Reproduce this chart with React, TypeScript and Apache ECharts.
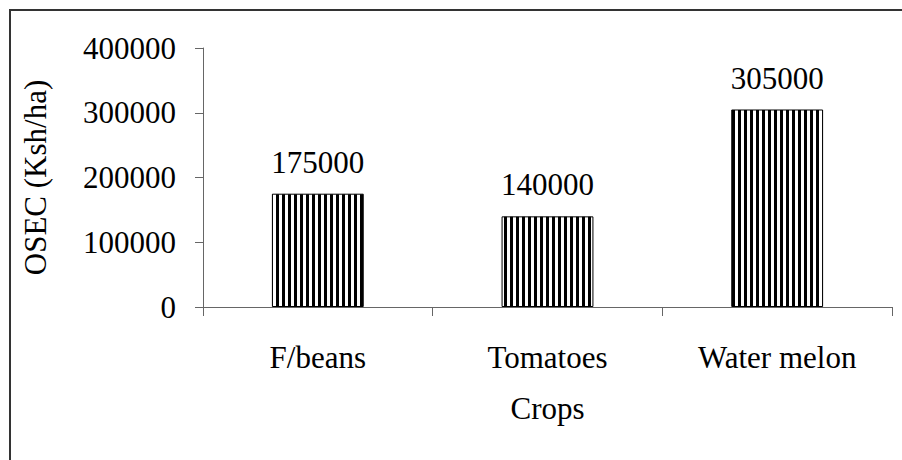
import React, { useEffect, useRef } from "react";
import * as echarts from "echarts";

const categories = ["F/beans", "Tomatoes", "Water melon"];
const values = [175000, 140000, 305000];
const yTicks = [0, 100000, 200000, 300000, 400000];
const xAxisTitle = "Crops";
const yAxisTitle = "OSEC (Ksh/ha)";

const FONT = "Liberation Serif";
const FS = 31;

export default function App() {
  const ref = useRef<HTMLDivElement>(null);
  useEffect(() => {
    if (!ref.current) return;
    const chart = echarts.init(ref.current, undefined, { renderer: "svg" });
    const cv = document.createElement("canvas");
    cv.width = 6;
    cv.height = 6;
    const ctx = cv.getContext("2d")!;
    ctx.fillStyle = "#ffffff";
    ctx.fillRect(0, 0, 6, 6);
    ctx.fillStyle = "#000000";
    ctx.fillRect(0, 0, 3, 6);
    const pattern: any = { image: cv, repeat: "repeat", imageWidth: 6, imageHeight: 6 };
    const txt = { fontFamily: FONT, fontSize: FS, color: "#000", fontWeight: "normal" as const };
    chart.setOption({
      animation: false,
      backgroundColor: "#ffffff",
      textStyle: { fontFamily: FONT, color: "#000" },
      grid: { left: 203, right: 10, top: 48, bottom: 153, containLabel: false },
      graphic: [
        {
          type: "rect",
          shape: { x: 10, y: 10, width: 940, height: 500 },
          style: { fill: "none", stroke: "#333", lineWidth: 2 },
          silent: true,
          z: 100,
        },
      ],
      xAxis: {
        type: "category",
        data: categories,
        name: xAxisTitle,
        nameLocation: "middle",
        nameGap: 86,
        nameTextStyle: { ...txt },
        axisLine: { lineStyle: { color: "#666", width: 1 } },
        axisTick: { show: true, length: 9, lineStyle: { color: "#666" } },
        axisLabel: { ...txt, margin: 35 },
      },
      yAxis: {
        type: "value",
        min: yTicks[0],
        max: yTicks[yTicks.length - 1],
        interval: 100000,
        name: yAxisTitle,
        nameLocation: "middle",
        nameGap: 152,
        nameRotate: 90,
        nameTextStyle: { ...txt },
        axisLine: { show: true, lineStyle: { color: "#666", width: 1 } },
        axisTick: { show: true, length: 8, lineStyle: { color: "#666" } },
        splitLine: { show: false },
        axisLabel: { ...txt, margin: 27, formatter: (v: number) => String(v) },
      },
      series: [
        {
          type: "bar",
          data: values,
          barWidth: "40%",
          itemStyle: { color: pattern, borderColor: "#000", borderWidth: 1 },
          label: { show: true, position: "top", distance: 16, ...txt },
        },
      ],
    });
    return () => chart.dispose();
  }, []);
  return (
    <div
      ref={ref}
      style={{ position: "absolute", left: 0, top: 0, width: 902, height: 460 }}
    />
  );
}
